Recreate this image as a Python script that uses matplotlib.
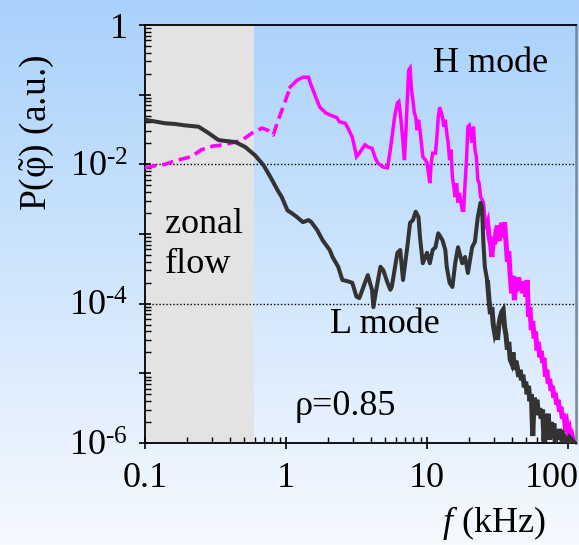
import numpy as np
import matplotlib
matplotlib.use('Agg')
import matplotlib.pyplot as plt
from matplotlib.ticker import FixedLocator, FixedFormatter, NullFormatter
from matplotlib.transforms import ScaledTranslation

plt.rcParams['font.family'] = ['Liberation Serif', 'DejaVu Serif']
plt.rcParams['mathtext.fontset'] = 'custom'
plt.rcParams['mathtext.rm'] = 'Liberation Serif'
plt.rcParams['mathtext.it'] = 'Liberation Serif:italic'
plt.rcParams['mathtext.bf'] = 'Liberation Serif:bold'

# ---------------- data (log10 of f in kHz, log10 of P in a.u.) ----------------
# H mode, low-frequency dashed part
h_dash_logf = [-1.00, -0.93, -0.86, -0.77, -0.67, -0.60, -0.52, -0.45, -0.38, -0.31,
               -0.24, -0.17, -0.13, -0.09, -0.06, -0.01, 0.03]
h_dash_logp = [-2.05, -2.02, -2.00, -1.94, -1.89, -1.79, -1.74, -1.72, -1.69, -1.65,
               -1.55, -1.48, -1.51, -1.58, -1.39, -1.12, -0.89]

# H mode, solid part
h_logf = [0.03, 0.08, 0.12, 0.16, 0.17, 0.21, 0.24, 0.28, 0.31, 0.36, 0.38, 0.42, 0.44,
          0.47, 0.49, 0.50, 0.52, 0.56, 0.58, 0.61, 0.63, 0.65, 0.69, 0.72, 0.74, 0.77,
          0.79, 0.80, 0.81, 0.82, 0.83, 0.84, 0.85, 0.86, 0.87, 0.88, 0.89, 0.90, 0.91,
          0.92, 0.93, 0.94, 0.95, 0.96, 0.97, 0.99, 1.00, 1.01, 1.02, 1.03, 1.04, 1.06,
          1.07, 1.08, 1.09, 1.11, 1.12, 1.13, 1.14, 1.15, 1.16, 1.17, 1.18, 1.20, 1.21,
          1.22, 1.23, 1.25, 1.26, 1.27, 1.28, 1.29, 1.30, 1.32, 1.33, 1.34, 1.35, 1.36,
          1.37, 1.38, 1.39, 1.40, 1.41, 1.42, 1.43, 1.44, 1.45, 1.46, 1.47, 1.48, 1.49,
          1.50, 1.51, 1.52, 1.53, 1.54, 1.55, 1.56, 1.57, 1.58, 1.59, 1.60, 1.61, 1.62,
          1.63, 1.64, 1.65, 1.66, 1.67, 1.68, 1.69, 1.70, 1.71, 1.72, 1.73, 1.74, 1.75,
          1.76, 1.77, 1.78, 1.79, 1.80, 1.81, 1.82, 1.83, 1.84, 1.85, 1.86, 1.87, 1.88,
          1.89, 1.90, 1.91, 1.92, 1.93, 1.94, 1.95, 1.96, 1.97, 1.98, 1.99, 2.00, 2.01,
          2.02, 2.03, 2.04]
h_logp = [-0.89, -0.79, -0.75, -0.75, -0.82, -1.03, -1.18, -1.26, -1.29, -1.33, -1.39, -1.41, -1.48,
          -1.61, -1.79, -1.89, -1.84, -1.72, -1.75, -1.77, -1.89, -1.98, -2.04, -2.05, -1.79, -1.32,
          -1.12, -1.10, -1.26, -1.46, -1.69, -1.94, -1.55, -1.08, -0.65, -0.62, -0.93, -1.08, -1.26,
          -1.32, -1.51, -1.36, -1.51, -1.69, -1.89, -1.94, -1.98, -2.12, -2.27, -1.98, -1.84, -1.84,
          -1.61, -1.32, -1.18, -1.32, -1.46, -1.36, -1.55, -1.69, -1.94, -1.79, -2.18, -2.47, -2.27,
          -2.55, -2.41, -2.66, -2.66, -2.27, -1.94, -1.46, -1.44, -1.69, -1.46, -1.79, -1.89, -2.22,
          -2.27, -2.47, -2.50, -2.55, -2.75, -2.90, -2.84, -3.05, -3.13, -3.33, -3.04, -3.15, -2.95,
          -2.88, -3.10, -2.95, -2.84, -3.05, -2.83, -3.10, -3.40, -3.25, -3.60, -3.85, -3.60, -3.95,
          -3.70, -3.82, -3.62, -3.80, -3.68, -3.85, -3.70, -3.90, -3.66, -4.19, -4.05, -4.38, -4.25,
          -4.50, -4.40, -4.67, -4.55, -4.77, -4.68, -4.85, -4.78, -5.05, -4.95, -5.15, -5.08, -5.25,
          -5.18, -5.35, -5.28, -5.45, -5.38, -5.55, -5.48, -5.65, -5.58, -5.75, -5.70, -5.85, -5.80,
          -5.95, -5.90, -5.99]

# L mode
l_logf = [-1.00, -0.86, -0.79, -0.72, -0.62, -0.55, -0.48, -0.45, -0.36, -0.29, -0.22, -0.16,
          -0.10, -0.06, -0.03, 0.01, 0.04, 0.08, 0.12, 0.16, 0.18, 0.22, 0.26, 0.31, 0.33, 0.37,
          0.40, 0.44, 0.47, 0.50, 0.52, 0.56, 0.58, 0.61, 0.62, 0.64, 0.67, 0.69, 0.72, 0.74,
          0.75, 0.79, 0.81, 0.83, 0.86, 0.88, 0.90, 0.92, 0.94, 0.95, 0.96, 0.97, 1.00, 1.02,
          1.04, 1.06, 1.08, 1.11, 1.13, 1.14, 1.16, 1.18, 1.20, 1.22, 1.25, 1.27, 1.29, 1.32,
          1.34, 1.36, 1.38, 1.39, 1.40, 1.41, 1.43, 1.44, 1.45, 1.46, 1.47, 1.48, 1.49, 1.50,
          1.51, 1.52, 1.53, 1.54, 1.55, 1.56, 1.57, 1.58, 1.59, 1.60, 1.61, 1.62, 1.63, 1.64,
          1.65, 1.66, 1.67, 1.68, 1.69, 1.70, 1.71, 1.72, 1.73, 1.74, 1.75, 1.76, 1.77, 1.78,
          1.79, 1.80, 1.81, 1.82, 1.83, 1.84, 1.85, 1.86, 1.87, 1.88, 1.89, 1.90, 1.91, 1.92,
          1.93, 1.94, 1.96, 1.97, 1.99, 2.01, 2.04]
l_logp = [-1.36, -1.41, -1.42, -1.44, -1.46, -1.55, -1.65, -1.66, -1.68, -1.75, -1.87, -2.01,
          -2.22, -2.37, -2.47, -2.66, -2.70, -2.76, -2.83, -2.80, -2.83, -2.94, -3.09, -3.23, -3.33, -3.47,
          -3.66, -3.68, -3.70, -3.90, -3.92, -3.70, -3.59, -3.80, -4.05, -3.80, -3.47, -3.52, -3.70, -3.80,
          -3.76, -3.27, -3.23, -3.66, -3.19, -2.84, -2.80, -2.68, -2.76, -3.04, -3.23, -3.42, -3.27, -3.42,
          -3.23, -3.19, -2.99, -3.09, -3.23, -3.47, -3.70, -3.76, -3.42, -3.19, -3.42, -3.33, -3.56, -3.19,
          -3.11, -2.76, -2.55, -2.61, -3.13, -3.47, -3.70, -3.95, -4.15, -4.05, -4.30, -4.42, -4.35, -4.52,
          -4.30, -4.19, -4.12, -4.09, -4.33, -4.45, -4.66, -4.55, -4.80, -4.85, -4.70, -4.95, -4.82, -4.91,
          -5.05, -4.95, -5.10, -5.02, -5.20, -5.12, -5.30, -5.18, -5.40, -5.30, -5.90, -5.35, -5.45, -5.38,
          -5.60, -5.50, -5.65, -5.52, -5.98, -5.60, -5.70, -5.58, -5.95, -5.70, -5.82, -5.72, -5.99, -5.85,
          -5.95, -5.80, -5.99, -5.90, -5.99, -5.92, -5.99]

x_tick_vals = [0.1, 1, 10, 100]
x_tick_labels = ['0.1', '1', '10', '100']
y_tick_vals = [1e-6, 1e-5, 1e-4, 1e-3, 1e-2, 1e-1, 1]
y_tick_labels = [r'$10^{\text{-}6}$', '', r'$10^{\text{-}4}$', '', r'$10^{\text{-}2}$', '', '1']
zonal_flow_edge = 0.59  # kHz
split_logf = 1.42       # beyond this the noisy spectra are drawn thicker

# ---------------- figure ----------------
W, H = 579, 545
fig = plt.figure(figsize=(W / 100, H / 100), dpi=100)

bg = fig.add_axes([0, 0, 1, 1], zorder=-10)
g = np.linspace(0, 1, 256)[:, None, None]
top = np.array([0.66, 0.82, 0.985])
bot = np.array([0.965, 0.978, 0.997])
img = top[None, None, :] * (1 - g) + bot[None, None, :] * g
bg.imshow(img, aspect='auto', extent=[0, 1, 0, 1], origin='upper')
bg.axis('off')

ax = fig.add_axes([145 / W, (H - 443) / H, 431 / W, 418 / H])
ax.set_facecolor('none')
ax.set_xscale('log')
ax.set_yscale('log')
ax.set_xlim(0.1, 10 ** (431 / 141 - 1))
ax.set_ylim(1e-6, 1)

ax.axvspan(0.1, zonal_flow_edge, color='#e3e3e3', lw=0, zorder=0)
for yv in (1e-2, 1e-4):
    ax.axhline(yv, color='black', lw=1.0, ls=(0, (1, 1.5)), zorder=1)

hd, = ax.plot(10 ** np.array(h_dash_logf), 10 ** np.array(h_dash_logp), color='#ff00ff',
              lw=2.6, zorder=3, solid_capstyle='butt')
hd.set_dashes((3.2, 1.6))


def split_plot(logf, logp, color, lw_lo, lw_hi, join, z):
    f = np.array(logf)
    p = np.array(logp)
    k = int(np.searchsorted(f, split_logf))
    ax.plot(10 ** f[:k + 1], 10 ** p[:k + 1], color=color, lw=lw_lo, zorder=z,
            solid_joinstyle=join)
    ax.plot(10 ** f[k:], 10 ** p[k:], color=color, lw=lw_hi, zorder=z,
            solid_joinstyle='miter')


split_plot(h_logf, h_logp, '#ff00ff', 2.5, 3.6, 'miter', 3)
split_plot(l_logf, l_logp, '#333333', 2.9, 3.6, 'round', 4)

# ticks
ax.xaxis.set_major_locator(FixedLocator(x_tick_vals))
ax.xaxis.set_major_formatter(FixedFormatter(x_tick_labels))
ax.yaxis.set_major_locator(FixedLocator(y_tick_vals))
ax.yaxis.set_major_formatter(FixedFormatter(y_tick_labels))
xminor = [m * 10 ** e for e in (-1, 0, 1, 2) for m in range(2, 10)]
yminor = [m * 10 ** e for e in range(-6, 0) for m in range(2, 10)]
ax.xaxis.set_minor_locator(FixedLocator(xminor))
ax.yaxis.set_minor_locator(FixedLocator(yminor))
ax.xaxis.set_minor_formatter(NullFormatter())
ax.yaxis.set_minor_formatter(NullFormatter())
ax.tick_params(which='major', direction='inout', length=9, width=1.2, labelsize=26,
               color='black', labelcolor='black')
ax.tick_params(axis='x', which='major', pad=9)
ax.tick_params(axis='y', which='major', pad=8)
ax.tick_params(which='minor', direction='in', length=4, width=1.0, color='black')
ax.tick_params(top=False, right=False)

for s in ('left', 'bottom', 'top'):
    ax.spines[s].set_color('black')
    ax.spines[s].set_linewidth(1.3)
ax.spines['right'].set_color('#7a8798')
ax.spines['right'].set_linewidth(1.8)

# shift the "100" label left like the reference
for lbl in ax.get_xticklabels():
    if lbl.get_text() == '100':
        lbl.set_transform(lbl.get_transform() + ScaledTranslation(-0.16, 0, fig.dpi_scale_trans))

fs = 26
fig.text(433 / W, 1 - 72 / H, 'H mode', fontsize=fs, ha='left', va='baseline')
fig.text(165 / W, 1 - 233 / H, 'zonal', fontsize=fs, ha='left', va='baseline')
fig.text(165 / W, 1 - 273 / H, 'flow', fontsize=fs, ha='left', va='baseline')
fig.text(330 / W, 1 - 333 / H, 'L mode', fontsize=fs, ha='left', va='baseline')
fig.text(295 / W, 1 - 415 / H, 'ρ=0.85', fontsize=fs, ha='left', va='baseline')
fig.text(442 / W, 1 - 532 / H, r'$f$ (kHz)', fontsize=fs, ha='left', va='baseline')
fig.text(37 / W, 1 - 133 / H, r'P($\tilde{\mathrm{φ}}$) (a.u.)', fontsize=fs + 1, rotation=90,
         ha='center', va='center')

fig.savefig('out.png', dpi=100)
